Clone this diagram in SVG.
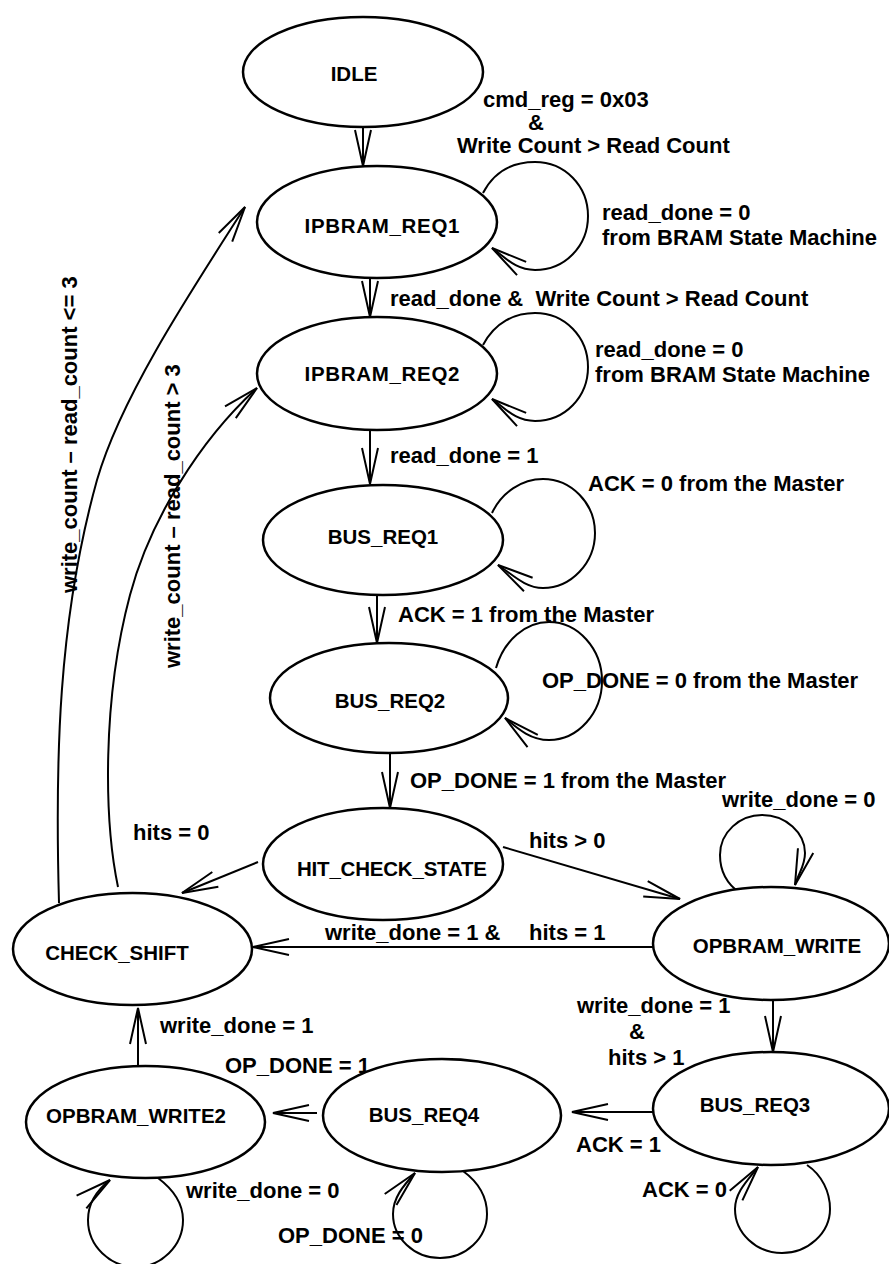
<svg xmlns="http://www.w3.org/2000/svg" width="889" height="1264" viewBox="0 0 889 1264">
  <defs>
    <style>
      .st { fill: #fff; stroke: #000; stroke-width: 2.5; }
      .ed { fill: none; stroke: #000; stroke-width: 2; marker-end: url(#arr); }
      text { font-family: "Liberation Sans", Arial, sans-serif; font-weight: bold; fill: #000; }
      .nm { font-size: 20.5px; text-anchor: middle; }
      .lb { font-size: 22px; }
    </style>
    <!-- open V arrowhead, drawn in user units so every edge gets the same size -->
    <marker id="arr" markerUnits="userSpaceOnUse" viewBox="-40 -12 44 24" refX="0" refY="0" markerWidth="44" markerHeight="24" orient="auto" overflow="visible">
      <path d="M-36,-8 L0,0 L-36,8" fill="none" stroke="#000" stroke-width="2"/>
    </marker>
  </defs>
  <rect width="889" height="1264" fill="#fff"/>

  <!-- transitions -->
  <g id="edges">
    <path class="ed" d="M363,127 L363,166"/>
    <path class="ed" d="M370,278 L370,317"/>
    <path class="ed" d="M370,430 L370,484"/>
    <path class="ed" d="M377,595 L377,643"/>
    <path class="ed" d="M390,753 L390,808"/>
    <path class="ed" d="M258,862 L182,893"/>
    <path class="ed" d="M503,847 L680,899"/>
    <path class="ed" d="M653,947 L253,947"/>
    <path class="ed" d="M773,1000 L773,1052"/>
    <path class="ed" d="M653,1112 L572,1112"/>
    <path class="ed" d="M317,1113 L273,1113"/>
    <path class="ed" d="M138,1066 L138,1008"/>
    <!-- back edges from CHECK_SHIFT -->
    <path class="ed" d="M59,903 C55,760 58,620 97,480 C120,400 185,300 245,207"/>
    <path class="ed" d="M118,887 C104,820 102,700 130,595 C150,520 200,440 257,388"/>
    <!-- self loops -->
    <path class="ed" d="M483,193 C495,170 515,162 535,162 C565,162 588,186 588,216 C588,246 565,270 535,270 C515,270 505,257 492,248"/>
    <path class="ed" d="M483,345 C495,322 515,313 535,313 C565,313 588,337 588,367 C588,397 565,421 535,421 C515,421 505,408 492,399"/>
    <path class="ed" d="M492,513 C502,492 522,479 543,479 C571,479 595,503 595,533 C595,563 571,588 543,588 C525,588 512,574 498,565"/>
    <path class="ed" d="M496,668 C504,640 526,622 549,622 C578,622 602,649 602,681 C602,713 578,740 549,740 C530,740 517,728 505,718"/>
    <path class="ed" d="M740,893 C724,882 720,868 720,855 C720,832 740,815 762,815 C786,815 805,833 805,853 C805,866 799,872 795,885"/>
    <path class="ed" d="M807,1165 C822,1175 830,1192 830,1209 C830,1233 808,1253 782,1253 C756,1253 735,1233 735,1209 C735,1192 748,1180 758,1167"/>
    <path class="ed" d="M463,1171 C478,1182 487,1197 487,1214 C487,1238 466,1258 440,1258 C414,1258 393,1238 393,1214 C393,1198 403,1186 415,1173"/>
    <path class="ed" d="M158,1178 C174,1190 183,1204 183,1220 C183,1246 161,1267 136,1267 C110,1267 88,1246 88,1220 C88,1203 97,1190 110,1180"/>
  </g>

  <!-- transition conditions -->
  <g id="edge-labels">
    <text class="lb" x="483" y="107">cmd_reg = 0x03</text>
    <text class="lb" x="528" y="130">&amp;</text>
    <text class="lb" x="457" y="153">Write Count &gt; Read Count</text>
    <text class="lb" x="602" y="220">read_done = 0</text>
    <text class="lb" x="602" y="245">from BRAM State Machine</text>
    <text class="lb" x="390" y="306" xml:space="preserve">read_done &amp;  Write Count &gt; Read Count</text>
    <text class="lb" x="595" y="357">read_done = 0</text>
    <text class="lb" x="595" y="382">from BRAM State Machine</text>
    <text class="lb" x="390" y="463">read_done = 1</text>
    <text class="lb" x="588" y="491">ACK = 0 from the Master</text>
    <text class="lb" x="398" y="622">ACK = 1 from the Master</text>
    <text class="lb" x="542" y="688">OP_DONE = 0 from the Master</text>
    <text class="lb" x="410" y="788">OP_DONE = 1 from the Master</text>
    <text class="lb" x="722" y="807">write_done = 0</text>
    <text class="lb" x="133" y="840">hits = 0</text>
    <text class="lb" x="529" y="848">hits &gt; 0</text>
    <text class="lb" x="325" y="940">write_done = 1 &amp;<tspan x="529">hits = 1</tspan></text>
    <text class="lb" x="577" y="1013">write_done = 1</text>
    <text class="lb" x="629" y="1039">&amp;</text>
    <text class="lb" x="608" y="1065">hits &gt; 1</text>
    <text class="lb" x="160" y="1033">write_done = 1</text>
    <text class="lb" x="225" y="1073">OP_DONE = 1</text>
    <text class="lb" x="576" y="1152">ACK = 1</text>
    <text class="lb" x="642" y="1197">ACK = 0</text>
    <text class="lb" x="186" y="1198">write_done = 0</text>
    <text class="lb" x="278" y="1243">OP_DONE = 0</text>
    <text class="lb" transform="translate(77,593) rotate(-90)">write_count – read_count &lt;= 3</text>
    <text class="lb" transform="translate(180,668) rotate(-90)">write_count – read_count &gt; 3</text>
  </g>

  <!-- states -->
  <g id="IDLE"><ellipse class="st" cx="363" cy="72" rx="120" ry="55"/><text class="nm" x="354" y="81">IDLE</text></g>
  <g id="IPBRAM_REQ1"><ellipse class="st" cx="377" cy="222" rx="120" ry="56"/><text class="nm" x="382" y="233" textLength="155">IPBRAM_REQ1</text></g>
  <g id="IPBRAM_REQ2"><ellipse class="st" cx="377" cy="373.5" rx="120" ry="56.5"/><text class="nm" x="382" y="381" textLength="155">IPBRAM_REQ2</text></g>
  <g id="BUS_REQ1"><ellipse class="st" cx="383" cy="540" rx="120" ry="55"/><text class="nm" x="383" y="544">BUS_REQ1</text></g>
  <g id="BUS_REQ2"><ellipse class="st" cx="389" cy="698" rx="119" ry="55"/><text class="nm" x="390" y="708">BUS_REQ2</text></g>
  <g id="HIT_CHECK_STATE"><ellipse class="st" cx="383" cy="864" rx="120" ry="56"/><text class="nm" x="392" y="876" textLength="190">HIT_CHECK_STATE</text></g>
  <g id="CHECK_SHIFT"><ellipse class="st" cx="132.5" cy="949" rx="119.5" ry="56"/><text class="nm" x="117" y="960">CHECK_SHIFT</text></g>
  <g id="OPBRAM_WRITE"><ellipse class="st" cx="771" cy="943.5" rx="118" ry="56.5"/><text class="nm" x="777" y="953">OPBRAM_WRITE</text></g>
  <g id="BUS_REQ3"><ellipse class="st" cx="771" cy="1108.5" rx="118" ry="56.5"/><text class="nm" x="755" y="1112">BUS_REQ3</text></g>
  <g id="BUS_REQ4"><ellipse class="st" cx="442" cy="1115.5" rx="119" ry="56.5"/><text class="nm" x="424" y="1122">BUS_REQ4</text></g>
  <g id="OPBRAM_WRITE2"><ellipse class="st" cx="145.5" cy="1122" rx="119.5" ry="56"/><text class="nm" x="136" y="1123">OPBRAM_WRITE2</text></g>
</svg>
